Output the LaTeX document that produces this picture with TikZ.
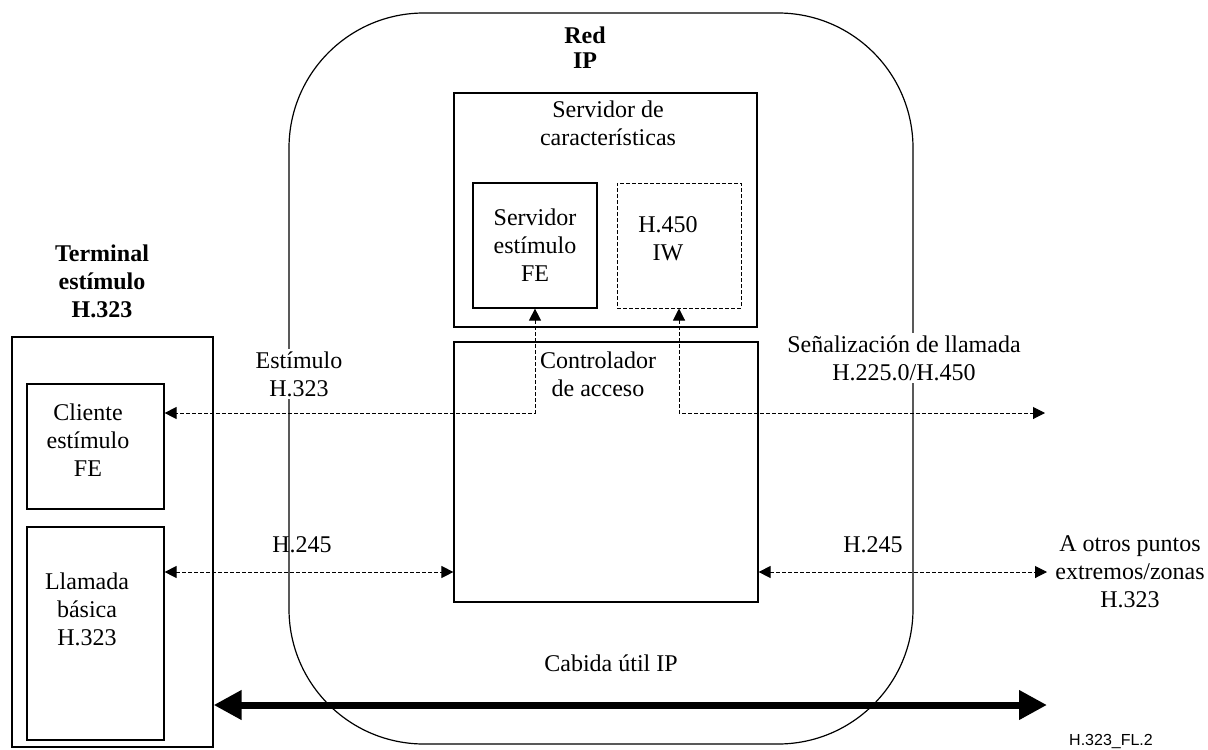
\documentclass[tikz,border=0pt]{standalone}
\usepackage{fontspec}
\setmainfont{Liberation Serif}
\setsansfont{Liberation Sans}
\usetikzlibrary{arrows.meta}

\begin{document}
\begin{tikzpicture}[x=.5pt,y=-.5pt,line width=.6pt,
  font=\fontsize{12}{14}\selectfont,
  box/.style={draw,rectangle,inner sep=0pt},
  txt/.style={align=center,inner sep=1pt},
  sig/.style={line width=.5pt,dash pattern=on 2pt off 1pt,
    {Triangle[length=6pt,width=6pt]}-{Triangle[length=6pt,width=6pt]}},
  bulk/.style={line width=3.5pt,
    {Triangle[length=14pt,width=14pt]}-{Triangle[length=14pt,width=14pt]}}]
  \useasboundingbox (0,0) rectangle (1208,749);

  % red IP
  \node[box,rounded corners=67.5pt,minimum width=312pt,minimum height=365.5pt]
    (red) at (601,378.5) {};
  \node[txt,font=\fontsize{12}{12.5}\selectfont\bfseries] (redtitle) at (585,47.5) {Red\\IP};

  % feature server
  \node[box,minimum width=151.5pt,minimum height=117pt] (fs) at (605.5,210) {};
  \node[txt] (fstitle) at (608,123.5) {Servidor de\\características};
  \node[box,txt,minimum width=62pt,minimum height=62.5pt] (se) at (535,245.5)
    {Servidor\\estímulo\\FE};
  \node[box,line width=.5pt,dash pattern=on 2pt off 1pt,
    minimum width=62pt,minimum height=62.5pt] (iw) at (679,245.5) {};
  \node[txt] (iwtext) at (668,239) {H.450\\IW};

  % access controller
  \node[box,fill=white,minimum width=152pt,minimum height=130pt] (ac) at (606,472) {};
  \node[txt] (actitle) at (598,374) {Controlador\\de acceso};

  % terminal
  \node[box,minimum width=100.5pt,minimum height=205pt] (term) at (112.5,542) {};
  \node[txt,font=\fontsize{12}{14}\selectfont\bfseries] (termtitle) at (102,281)
    {Terminal\\estímulo\\H.323};
  \node[box,minimum width=68.5pt,minimum height=62.5pt] (cl) at (95.5,446.5) {};
  \node[txt] (cltext) at (88,440) {Cliente\\estímulo\\FE};
  \node[box,minimum width=68.5pt,minimum height=106.5pt] (ll) at (95.5,633.5) {};
  \node[txt] (lltext) at (87,609) {Llamada\\básica\\H.323};

  % free ends
  \coordinate (stim) at (cl.east |- 0,413);
  \coordinate (sigend) at (1045,413);
  \coordinate (h) at (0,572);
  \coordinate (otros) at (1047,572);
  \coordinate (bulkend) at (1047,705);

  \draw[sig] (se.south) |- (stim);
  \draw[sig] (iw.south) |- (sigend);
  \draw[sig] (ll.east |- h) -- (ac.west |- h);
  \draw[sig] (ac.east |- h) -- (otros);
  \draw[bulk] (term.east |- bulkend) -- (bulkend);

  % labels
  \node[txt,fill=white] (stimlabel) at (299,374) {Estímulo\\H.323};
  \node[txt,fill=white] (siglabel) at (904,358) {Señalización de llamada\\H.225.0/H.450};
  \node[txt] (h245l) at (302,545) {H.245};
  \node[txt] (h245r) at (873,545) {H.245};
  \node[txt] (otroslabel) at (1130,572) {A otros puntos\\extremos/zonas\\H.323};
  \node[txt] (bulklabel) at (611,663) {Cabida útil IP};
  \node[txt,font=\fontsize{8}{9}\sffamily] (figid) at (1111,741) {H.323\_FL.2};
\end{tikzpicture}
\end{document}
